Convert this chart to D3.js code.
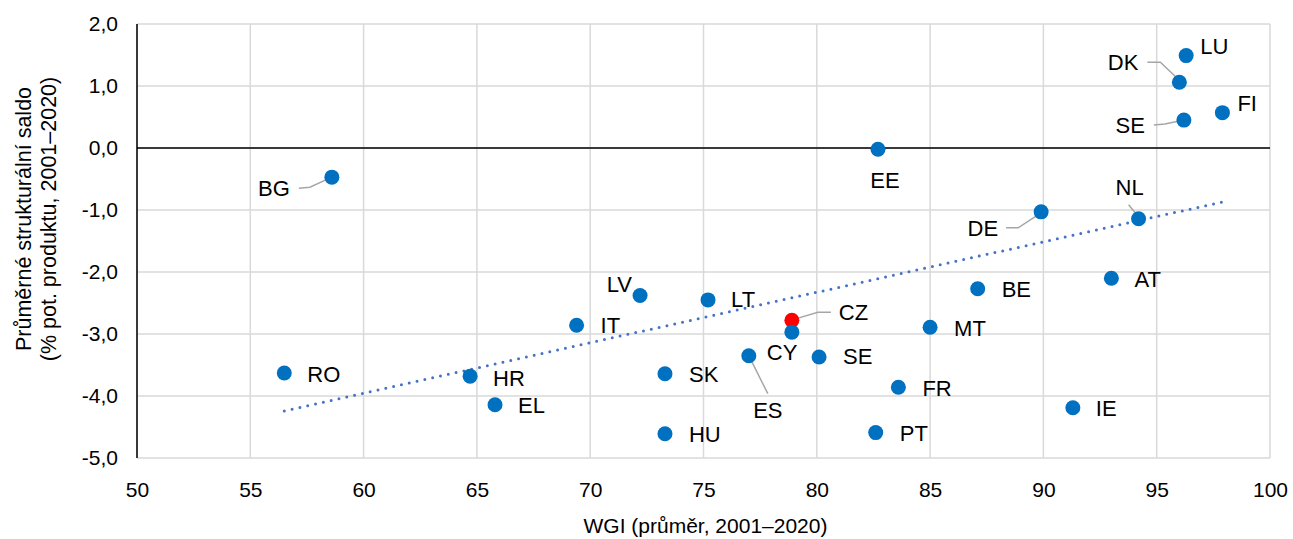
<!DOCTYPE html>
<html>
<head>
<meta charset="utf-8">
<script src="https://d3js.org/d3.v7.min.js"></script>
<style>
  body { margin: 0; background: #fff; }
  text { font-family: "Liberation Sans", Arial, sans-serif; fill: #000; }
  .grid line { stroke: #d9d9d9; stroke-width: 1.5; }
</style>
</head>
<body>
<div id="chart"></div>
<script>
// data
const countries = ["LU", "DK", "SE", "FI", "EE", "BG", "DE", "NL", "AT", "BE", "LV", "LT", "IT", "CZ", "CY", "MT",
                   "ES", "SE", "RO", "HR", "SK", "FR", "EL", "IE", "HU", "PT"];
const wgi = [96.3, 96.0, 96.2, 97.9, 82.7, 58.6, 89.9, 94.2, 93.0, 87.1, 72.2, 75.2, 69.4, 78.9, 78.9, 85.0,
             77.0, 80.1, 56.5, 64.7, 73.3, 83.6, 65.8, 91.3, 73.3, 82.6];
const saldo = [1.49, 1.06, 0.45, 0.57, -0.02, -0.47, -1.03, -1.14, -2.10, -2.27, -2.38, -2.45, -2.86, -2.78, -2.97, -2.89,
               -3.35, -3.37, -3.63, -3.68, -3.64, -3.86, -4.14, -4.19, -4.61, -4.59];
const highlight = "CZ";
const trendX = [56.5, 97.9];
const trendY = [-4.24, -0.87];
const xTicks = [50, 55, 60, 65, 70, 75, 80, 85, 90, 95, 100];
const yTicks = [2, 1, 0, -1, -2, -3, -4, -5];

// label layout: offset of label from point (px), anchor, optional leader line points
const labelLayout = [
  { dx: 14, dy: -9, a: "start" },                                   // LU
  { dx: -41, dy: -20, a: "end", lead: [[-32, -20], [-19, -20], [0, -2]] }, // DK
  { dx: -39, dy: 5, a: "end", lead: [[-30, 5], [-19, 4], [0, 0]] },  // SE
  { dx: 15, dy: -9, a: "start" },                                   // FI
  { dx: 7, dy: 31, a: "middle" },                                   // EE
  { dx: -42, dy: 11, a: "end", lead: [[-33, 11], [-22, 10], [0, 0]] }, // BG
  { dx: -43, dy: 17, a: "end", lead: [[-35, 16], [-23, 16], [0, 1]] }, // DE
  { dx: -9, dy: -31, a: "middle", lead: [[-10, -14], [4, 3]] },     // NL
  { dx: 23, dy: 1, a: "start" },                                    // AT
  { dx: 24, dy: 1, a: "start" },                                    // BE
  { dx: -8, dy: -11, a: "end" },                                    // LV
  { dx: 23, dy: 0, a: "start" },                                    // LT
  { dx: 24, dy: 0, a: "start" },                                    // IT
  { dx: 47, dy: -8, a: "start", lead: [[2, -1], [26, -8], [39, -8]] }, // CZ
  { dx: -25, dy: 20, a: "start" },                                  // CY
  { dx: 24, dy: 1, a: "start" },                                    // MT
  { dx: 19, dy: 55, a: "middle", lead: [[0, 0], [19, 38]] },        // ES
  { dx: 24, dy: 0, a: "start" },                                    // SE
  { dx: 23, dy: 1, a: "start" },                                    // RO
  { dx: 23, dy: 2, a: "start" },                                    // HR
  { dx: 24, dy: 1, a: "start" },                                    // SK
  { dx: 24, dy: 1, a: "start" },                                    // FR
  { dx: 23, dy: 1, a: "start" },                                    // EL
  { dx: 23, dy: 1, a: "start" },                                    // IE
  { dx: 24, dy: 1, a: "start" },                                    // HU
  { dx: 24, dy: 1, a: "start" }                                     // PT
];

const W = 1293, H = 539;
const margin = { top: 24, right: 23, bottom: 81, left: 137 };

const svg = d3.select("#chart").append("svg")
  .attr("width", W).attr("height", H);

const x = d3.scaleLinear().domain([50, 100]).range([margin.left, W - margin.right]);
const y = d3.scaleLinear().domain([-5, 2]).range([H - margin.bottom, margin.top]);

// grid
const grid = svg.append("g").attr("class", "grid");
grid.selectAll(".gx").data(xTicks).join("line")
  .attr("x1", d => x(d)).attr("x2", d => x(d))
  .attr("y1", y(2)).attr("y2", y(-5));
grid.selectAll(".gy").data(yTicks).join("line")
  .attr("x1", x(50)).attr("x2", x(100))
  .attr("y1", d => y(d)).attr("y2", d => y(d));

// zero line and left axis line
svg.append("line").attr("x1", x(50)).attr("x2", x(100))
  .attr("y1", y(0)).attr("y2", y(0)).attr("stroke", "#000").attr("stroke-width", 1.5);
svg.append("line").attr("x1", x(50)).attr("x2", x(50))
  .attr("y1", y(2)).attr("y2", y(-5)).attr("stroke", "#000").attr("stroke-width", 1.5);

// axes labels
const fmt = d => d3.format(".1f")(d).replace(".", ",").replace("−", "-");
const xAxis = svg.append("g")
  .attr("transform", `translate(0,${y(-5) + 32})`)
  .call(d3.axisBottom(x).tickValues(xTicks).tickSize(0).tickPadding(0));
xAxis.select(".domain").remove();
xAxis.selectAll("text").style("font-size", "21px").attr("dy", "0.32em")
  .style("font-family", "Liberation Sans, Arial, sans-serif").attr("fill", "#000");

const yAxis = svg.append("g")
  .attr("transform", `translate(${x(50) - 19},0)`)
  .call(d3.axisLeft(y).tickValues(yTicks).tickFormat(fmt).tickSize(0).tickPadding(0));
yAxis.select(".domain").remove();
yAxis.selectAll("text").style("font-size", "21px")
  .style("font-family", "Liberation Sans, Arial, sans-serif").attr("fill", "#000");

// axis titles
svg.append("text").attr("x", (x(50) + x(100)) / 2 + 2).attr("y", 525)
  .attr("text-anchor", "middle").attr("dominant-baseline", "central")
  .style("font-size", "21px").text("WGI (průměr, 2001–2020)");
const yt = svg.append("text").attr("transform", "translate(23,219) rotate(-90)")
  .attr("text-anchor", "middle").style("font-size", "21.5px");
yt.append("tspan").attr("x", 0).attr("dy", "0.35em").text("Průměrné strukturální saldo");
yt.append("tspan").attr("x", 0).attr("dy", "1.2em").text("(% pot. produktu, 2001–2020)");

// trend line
svg.append("path")
  .datum(d3.zip(trendX, trendY))
  .attr("d", d3.line().x(d => x(d[0])).y(d => y(d[1])))
  .attr("fill", "none").attr("stroke", "#4472C4").attr("stroke-width", 3)
  .attr("stroke-linecap", "round").attr("stroke-dasharray", "0 8");

const pts = countries.map((c, i) => ({ c, wx: wgi[i], s: saldo[i], lay: labelLayout[i] }));

// leader lines
svg.append("g").selectAll("path").data(pts.filter(d => d.lay.lead)).join("path")
  .attr("d", d => d3.line()(d.lay.lead.map(p => [x(d.wx) + p[0], y(d.s) + p[1]])))
  .attr("fill", "none").attr("stroke", "#a6a6a6").attr("stroke-width", 1.5);

// points
svg.append("g").selectAll("circle").data(pts).join("circle")
  .attr("cx", d => x(d.wx)).attr("cy", d => y(d.s)).attr("r", 7.5)
  .attr("fill", d => d.c === highlight ? "#FF0000" : "#0070C0");

// labels
svg.append("g").selectAll("text").data(pts).join("text")
  .attr("x", d => x(d.wx) + d.lay.dx).attr("y", d => y(d.s) + d.lay.dy)
  .attr("text-anchor", d => d.lay.a).attr("dominant-baseline", "central")
  .style("font-size", "22px").text(d => d.c);
</script>
</body>
</html>
